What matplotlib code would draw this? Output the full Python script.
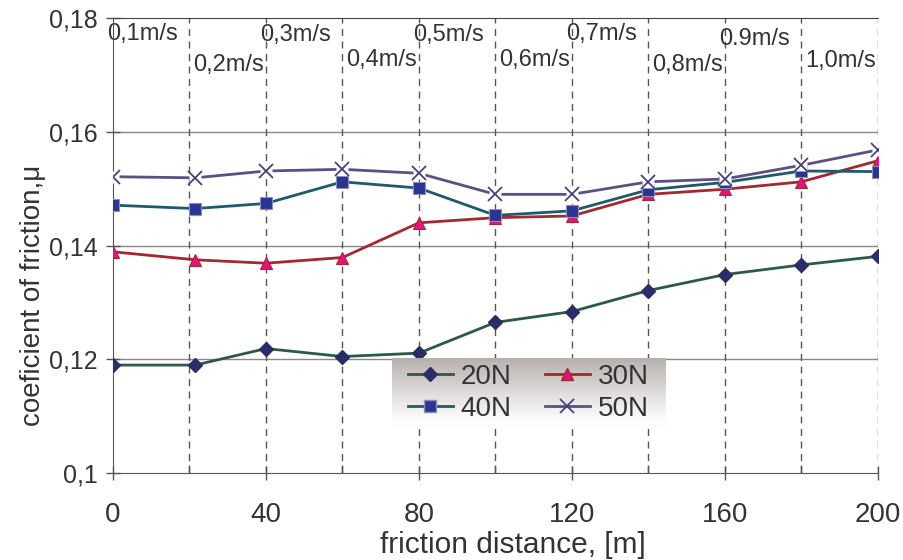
import numpy as np
import matplotlib
matplotlib.use('Agg')
import matplotlib.pyplot as plt
from matplotlib.lines import Line2D

plt.rcParams['font.family'] = ['Liberation Sans', 'DejaVu Sans']

# data
dist = [0, 21.5, 40, 60, 80, 100, 120, 140, 160, 180, 200]
mu_20N = [0.1190, 0.1190, 0.1219, 0.1205, 0.1211, 0.1265, 0.1284, 0.1321, 0.1349, 0.1366, 0.1381]
mu_30N = [0.1389, 0.1375, 0.1369, 0.1379, 0.1440, 0.1449, 0.1452, 0.1490, 0.1499, 0.1512, 0.1549]
mu_40N = [0.1471, 0.1465, 0.1474, 0.1512, 0.1501, 0.1453, 0.1461, 0.1498, 0.1511, 0.1531, 0.1530]
mu_50N = [0.1521, 0.1519, 0.1531, 0.1534, 0.1527, 0.1490, 0.1490, 0.1512, 0.1517, 0.1541, 0.1568]

speed_labels = ['0,1m/s', '0,2m/s', '0,3m/s', '0,4m/s', '0,5m/s', '0,6m/s',
                '0,7m/s', '0,8m/s', '0.9m/s', '1,0m/s']
speed_x = [0, 20, 40, 60, 80, 100, 120, 140, 160, 180]
section_lines = [20, 40, 60, 80, 100, 120, 140, 160, 180, 200]

yticks = [0.10, 0.12, 0.14, 0.16, 0.18]
ytick_labels = ['0,1', '0,12', '0,14', '0,16', '0,18']
xticks = [0, 40, 80, 120, 160, 200]
xticks_minor = [20, 60, 100, 140, 180]

# label heights (data units) -- staggered like the original
label_y = [0.1771, 0.1717, 0.1770, 0.1726, 0.1770, 0.1726, 0.1771, 0.1717, 0.1763, 0.1725]

fig = plt.figure(figsize=(9.04, 5.6), dpi=100)
ax = fig.add_axes([0.125, 0.155, 0.846, 0.813])
ax.set_xlim(0, 200); ax.set_ylim(0.10, 0.18)

# grid
for y in yticks[1:-1]:
    ax.axhline(y, color='#888888', lw=1.0, zorder=1)
for x in section_lines:
    ax.axvline(x, color='#555555', lw=1.0, ls=(0, (5, 4)), zorder=1)

txt = '#333333'
ax.plot(dist, mu_20N, color='#2C5A45', lw=2.0, marker='D', ms=7,
        mfc='#2B2D66', mec='#2B2D66', zorder=3)
ax.plot(dist, mu_30N, color='#A3282F', lw=2.0, marker='^', ms=9,
        mfc='#E6127E', mec='#A3282F', mew=0.8, zorder=3)
ax.plot(dist, mu_40N, color='#1D5A6C', lw=2.0, marker='s', ms=8,
        mfc='#2A3592', mec='#8A8FC0', mew=0.8, zorder=4)
ax.plot(dist, mu_50N, color='#5B4F86', lw=2.0, zorder=5)
ax.plot(dist, mu_50N, ls='none', marker='s', ms=9, mfc='white', mec='none', zorder=5)
ax.plot(dist, mu_50N, ls='none', marker='x', ms=10, mew=1.3, mec='#4A3F7C', zorder=6)

# speed annotations
for i, (x, y, s) in enumerate(zip(speed_x, label_y, speed_labels)):
    ax.text(x - 1.5 if i % 2 == 0 else x + 1, y, s, fontsize=17, color=txt,
            ha='left', va='center', zorder=2)

ax.spines['right'].set_visible(False)
ax.spines['top'].set_color('#444444')
ax.spines['left'].set_color('#555555')
ax.spines['bottom'].set_color('#555555')

ax.set_yticks(yticks)
ax.set_yticklabels(ytick_labels)
ax.set_xticks(xticks)
ax.set_xticks(xticks_minor, minor=True)
ax.tick_params(axis='both', which='major', direction='inout', length=10, width=1,
               color='#555555', labelsize=18, labelcolor=txt)
ax.tick_params(axis='x', which='minor', direction='in', length=6, width=1, color='#555555')
ax.tick_params(axis='x', which='major', pad=16, labelsize=20)
ax.tick_params(axis='y', which='major', pad=6)

ax.set_xlabel('friction distance, [m]', fontsize=21.5, color=txt)
ax.xaxis.set_label_coords(0.523, -0.128)
ax.set_ylabel('coeficient of friction,μ', fontsize=20, color=txt)
ax.yaxis.set_label_coords(-0.088, 0.39)

# legend with grey-to-white gradient background
lax = fig.add_axes([392/904, 1-428/560, 273/904, 70/560], zorder=10)
grad = np.linspace(0, 1, 100).reshape(-1, 1)
top = np.array([0.72, 0.69, 0.68]); bot = np.array([0.99, 0.99, 0.99])
img = top + (bot - top) * np.clip(grad * 1.15, 0, 1)[:, :, None] * np.ones((1, 1, 3))
lax.imshow(img, aspect='auto', extent=[0, 1, 0, 1])
lax.set_xlim(0, 1); lax.set_ylim(0, 1)
lax.axis('off')
handles = [
    Line2D([], [], color='#2C5A45', lw=2.0, marker='D', ms=7, mfc='#2B2D66', mec='#2B2D66'),
    Line2D([], [], color='#1D5A6C', lw=2.0, marker='s', ms=8, mfc='#2A3592', mec='#8A8FC0'),
    Line2D([], [], color='#A3282F', lw=2.0, marker='^', ms=9, mfc='#E6127E', mec='#A3282F'),
    Line2D([], [], color='#5B4F86', lw=2.0, marker='x', ms=10, mew=1.3, mec='#4A3F7C'),
]
lax.legend(handles, ['20N', '40N', '30N', '50N'], ncol=2, loc='center', frameon=False,
           fontsize=20, handlelength=1.6, columnspacing=1.2, labelspacing=0.22,
           handletextpad=0.3, borderpad=0.2, labelcolor=txt)

fig.savefig('out.png', dpi=100)
